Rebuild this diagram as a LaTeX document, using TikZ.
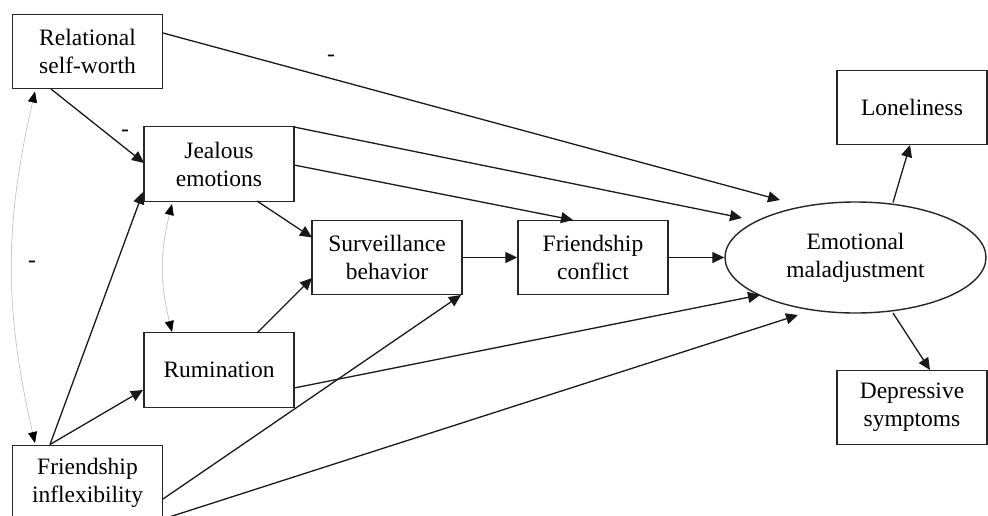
\documentclass[tikz,border=0pt]{standalone}
\usepackage{fontspec}
\setmainfont{Liberation Serif}
\usetikzlibrary{arrows.meta,shapes.geometric}
\begin{document}
\begin{tikzpicture}[x=1pt,y=-1pt,
  box/.style={draw=black!85, line width=1.4pt, minimum width=150pt, minimum height=74.5pt, align=center, inner sep=0pt, font=\fontsize{23.5}{28}\selectfont},
  oval/.style={ellipse, draw=black!85, line width=1.4pt, minimum width=261pt, minimum height=111pt, align=center, inner sep=0pt, font=\fontsize{23.5}{28}\selectfont},
  path/.style={draw=black!90, line width=1.3pt, -{Triangle[length=12pt,width=11pt]}},
  cov/.style={draw=gray!60, line width=0.5pt, {Triangle[length=11pt,width=9pt,color=black]}-{Triangle[length=11pt,width=9pt,color=black]}},
  sign/.style={inner sep=0pt, font=\fontsize{23.5}{28}\selectfont}
]
\useasboundingbox (0,0) rectangle (988,515);
\fill[white] (0,0) rectangle (988,515);

\node[box] (rsw) at (87.5,51.5) {Relational\\self-worth};
\node[box] (je) at (219,164) {Jealous\\emotions};
\node[box] (ru) at (219,370) {Rumination};
\node[box] (fi) at (87.5,482.5) {Friendship\\inflexibility};
\node[box] (sb) at (387,257.5) {Surveillance\\behavior};
\node[box] (fc) at (593,257.5) {Friendship\\conflict};
\node[oval] (em) at (855.5,257.5) {Emotional\\maladjustment};
\node[box] (lo) at (912,107.5) {Loneliness};
\node[box] (ds) at (912,407.5) {Depressive\\symptoms};

% paths
\draw[path] ([shift={(75.5,-18.5)}]rsw.center) -- ([shift={(-75.5,-57.5)}]em.center);
\draw[path] ([shift={(-36.5,37.5)}]rsw.center) -- ([shift={(-75,-1)}]je.center);
\draw[path] ([shift={(75,-37)}]je.center) -- ([shift={(-113.5,-39.5)}]em.center);
\draw[path] ([shift={(75,1)}]je.center) -- ([shift={(-20,-37.5)}]fc.center);
\draw[path] ([shift={(38,37)}]je.center) -- ([shift={(-75,-20)}]sb.center);
\draw[path] (sb.east) -- (fc.west);
\draw[path] (fc.east) -- (em.west);
\draw[path] ([shift={(38,-37)}]ru.center) -- ([shift={(-75,20.5)}]sb.center);
\draw[path] ([shift={(75,18)}]ru.center) -- ([shift={(-95.5,37.5)}]em.center);
\draw[path] ([shift={(-37.5,-38)}]fi.center) -- ([shift={(-76,28)}]je.center);
\draw[path] ([shift={(-37.5,-38)}]fi.center) -- ([shift={(-76,20)}]ru.center);
\draw[path] ([shift={(75.5,16.5)}]fi.center) -- ([shift={(74,37.5)}]sb.center);
\draw[path] ([shift={(75.5,36.5)}]fi.center) -- ([shift={(-57.5,57.5)}]em.center);
\draw[path] ([shift={(37.5,-55)}]em.center) -- ([shift={(-2,37.5)}]lo.center);
\draw[path] ([shift={(37.5,55.5)}]em.center) -- ([shift={(18,-37.5)}]ds.center);

% covariances
\draw[cov] ([shift={(-52.5,40)}]rsw.center) to[bend right=13] ([shift={(-52.5,-39.5)}]fi.center);
\draw[cov] ([shift={(-47,40)}]je.center) to[bend right=14] ([shift={(-47,-38)}]ru.center);

% signs
\node[sign] (s1) at (331,58) {-};
\node[sign] (s2) at (125,133) {-};
\node[sign] (s3) at (32,264) {-};
\end{tikzpicture}
\end{document}
